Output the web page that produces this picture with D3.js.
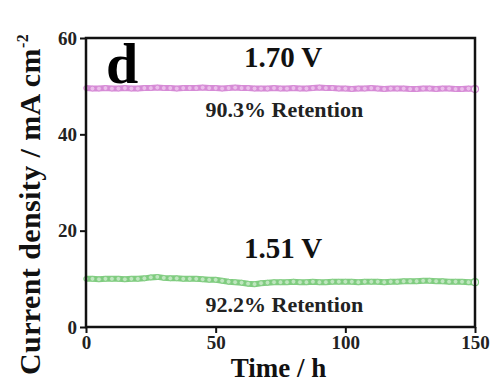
<!DOCTYPE html>
<html>
<head>
<meta charset="utf-8">
<script src="https://cdn.jsdelivr.net/npm/d3@7"></script>
<style>
  body { margin: 0; background: #fff; }
  svg { display: block; font-family: "Liberation Serif", "Times New Roman", serif; font-weight: bold; }
</style>
</head>
<body>
<div id="chart"></div>
<script>
// time axis (h), readings every 2.5 h
const times = [0,2.5,5,7.5,10,12.5,15,17.5,20,22.5,25,27.5,30,32.5,35,37.5,40,42.5,45,47.5,
  50,52.5,55,57.5,60,62.5,65,67.5,70,72.5,75,77.5,80,82.5,85,87.5,90,92.5,95,97.5,
  100,102.5,105,107.5,110,112.5,115,117.5,120,122.5,125,127.5,130,132.5,135,137.5,140,142.5,145,147.5,150];

// 1.70 V current density (mA cm^-2)
const highV = [49.6,49.5,49.5,49.6,49.5,49.5,49.6,49.5,49.5,49.6,49.6,49.7,49.6,49.6,49.5,49.6,49.6,49.6,49.7,49.6,
  49.6,49.5,49.6,49.7,49.6,49.6,49.5,49.5,49.5,49.6,49.5,49.5,49.6,49.5,49.5,49.6,49.7,49.6,49.6,49.5,
  49.5,49.4,49.5,49.5,49.6,49.5,49.4,49.5,49.5,49.5,49.4,49.4,49.5,49.5,49.4,49.5,49.5,49.4,49.4,49.5,49.4];

// 1.51 V current density (mA cm^-2)
const lowV = [10.0,10.0,9.9,10.0,10.0,10.0,9.9,10.0,10.0,10.1,10.3,10.4,10.2,10.1,10.1,10.0,10.0,10.0,9.9,9.8,
  9.8,9.6,9.4,9.3,9.2,9.0,8.9,9.1,9.2,9.3,9.3,9.3,9.4,9.3,9.3,9.4,9.3,9.3,9.4,9.4,
  9.4,9.4,9.3,9.4,9.4,9.4,9.3,9.4,9.4,9.5,9.5,9.5,9.6,9.6,9.5,9.5,9.4,9.4,9.4,9.3,9.3];

const xTicks = [0, 50, 100, 150];
const yTicks = [0, 20, 40, 60];

const series = [
  { values: highV, stroke: "#d68ad6", fill: "#ebbdea", label: "1.70 V", retention: "90.3% Retention", labelY: 53.9, retY: 43.7 },
  { values: lowV, stroke: "#7fcc7f", fill: "#bfe6bf", label: "1.51 V", retention: "92.2% Retention", labelY: 14.3, retY: 3.1 }
];

const W = 494, H = 384;
const margin = { top: 38, right: 19, bottom: 57, left: 86 };
const width = W - margin.left - margin.right;
const height = H - margin.top - margin.bottom;

const svg = d3.select("#chart").append("svg")
  .attr("width", W)
  .attr("height", H);

const g = svg.append("g")
  .attr("transform", `translate(${margin.left}, ${margin.top})`);

const x = d3.scaleLinear().domain([0, 150]).range([0, width]);
const y = d3.scaleLinear().domain([0, 60]).range([height, 0]);

// series
const line = d3.line()
  .x((d, i) => x(times[i]))
  .y((d) => y(d));

series.forEach((s) => {
  g.append("path")
    .datum(s.values)
    .attr("fill", "none")
    .attr("stroke", s.stroke)
    .attr("stroke-width", 6)
    .attr("d", line);
  g.selectAll(null)
    .data(s.values)
    .enter()
    .append("circle")
    .attr("cx", (d, i) => x(times[i]))
    .attr("cy", (d) => y(d))
    .attr("r", 2.4)
    .attr("fill", s.fill)
    .attr("stroke", s.stroke)
    .attr("stroke-width", 0.8);
  // end marker
  g.append("circle")
    .attr("cx", x(times[times.length - 1]))
    .attr("cy", y(s.values[s.values.length - 1]))
    .attr("r", 3.5)
    .attr("fill", "#fff")
    .attr("stroke", s.stroke)
    .attr("stroke-width", 1.2);

  g.append("text")
    .attr("x", x(76))
    .attr("y", y(s.labelY))
    .attr("text-anchor", "middle")
    .attr("font-size", 29)
    .attr("fill", "#111")
    .text(s.label);
  g.append("text")
    .attr("x", x(76.5))
    .attr("y", y(s.retY))
    .attr("text-anchor", "middle")
    .attr("font-size", 22)
    .attr("fill", "#222")
    .text(s.retention);
});

// panel letter
g.append("text")
  .attr("x", 20)
  .attr("y", 45)
  .attr("font-size", 58)
  .attr("fill", "#000")
  .text("d");

// axes
const xAxis = g.append("g")
  .attr("transform", `translate(0, ${height})`)
  .call(d3.axisBottom(x).tickValues(xTicks).tickSize(6).tickPadding(3));
const yAxis = g.append("g")
  .call(d3.axisLeft(y).tickValues(yTicks).tickSize(6).tickPadding(3));

[xAxis, yAxis].forEach((a) => {
  a.select(".domain").remove();
  a.selectAll("line").attr("stroke", "#111").attr("stroke-width", 2);
  a.selectAll("text")
    .attr("font-family", "Liberation Serif, serif")
    .attr("font-weight", "bold")
    .attr("font-size", 19)
    .attr("fill", "#222");
});

// frame
g.append("rect")
  .attr("x", 0)
  .attr("y", 0)
  .attr("width", width)
  .attr("height", height)
  .attr("fill", "none")
  .attr("stroke", "#111")
  .attr("stroke-width", 2.5);

// axis titles
svg.append("text")
  .attr("x", margin.left + width / 2 - 2)
  .attr("y", 377)
  .attr("text-anchor", "middle")
  .attr("font-size", 27)
  .attr("fill", "#111")
  .text("Time / h");

const yt = svg.append("text")
  .attr("transform", "translate(40, 375) rotate(-90)")
  .attr("text-anchor", "start")
  .attr("font-size", 30)
  .attr("letter-spacing", 0.4)
  .attr("fill", "#111");
yt.append("tspan").text("Current density / mA cm");
yt.append("tspan").attr("dy", -12).attr("font-size", 16).text("-2");
</script>
</body>
</html>
